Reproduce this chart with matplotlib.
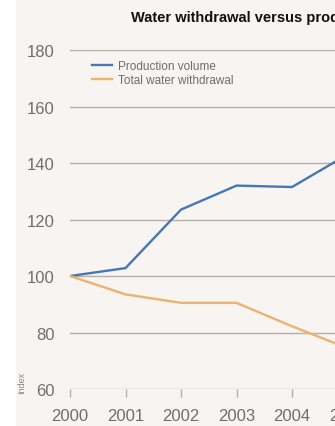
import matplotlib
matplotlib.use("Agg")
import matplotlib.pyplot as plt
from matplotlib.patches import Rectangle

years = [2000, 2001, 2002, 2003, 2004, 2005]
production_volume = [100, 102.8, 123.5, 132, 131.5, 143]
total_water_withdrawal = [100, 93.5, 90.5, 90.5, 82.2, 74.5]
y_ticks = [60, 80, 100, 120, 140, 160, 180]
title = "Water withdrawal versus production"
series_names = ["Production volume", "Total water withdrawal"]

plt.rcParams['font.family'] = ['Liberation Sans', 'DejaVu Sans']

W, H = 335, 427
fig = plt.figure(figsize=(W / 100, H / 100), dpi=100)
fig.patch.set_facecolor("white")
bg = "#f7f4f1"
fig.add_artist(Rectangle((16 / W, 0), 1, 1, transform=fig.transFigure,
                         facecolor=bg, edgecolor="none", zorder=0))

px_per_year = 55.5
xmax = 2005.6
left = 70 / W
width = (xmax - 2000) * px_per_year / W
bottom = 1 - 390 / H
top = 1 - 51 / H
ax = fig.add_axes([left, bottom, width, top - bottom])
ax.set_facecolor("none")
ax.set_xlim(2000, xmax)
ax.set_ylim(60, 180)

grid_c = "#b3afab"
text_c = "#6e6e6e"
for v in y_ticks:
    ax.axhline(v, color=grid_c, lw=1.0, zorder=1)

ax.plot(years, production_volume, color="#4677b4", lw=1.7, zorder=3,
        label=series_names[0], solid_joinstyle="miter")
ax.plot(years, total_water_withdrawal, color="#ebb46c", lw=1.7, zorder=3,
        label=series_names[1], solid_joinstyle="miter")

for s in ax.spines.values():
    s.set_visible(False)
ax.set_yticks(y_ticks)
ax.set_xticks(years)
ax.set_xticklabels([str(y) for y in years])
ax.tick_params(axis="y", length=0, pad=11, labelsize=12, labelcolor=text_c)
ax.tick_params(axis="x", length=6, width=1, color=grid_c, direction="out",
               pad=8, labelsize=12, labelcolor=text_c)

fig.text(22 / W, 1 - 383 / H, "Index", rotation=90, ha="center", va="center",
         fontsize=6.5, color="#8a8a8a")

fig.text(131 / W, 1 - 18 / H, title, ha="left", va="center",
         fontsize=10.5, fontweight="bold", color="#111111")

ax_w_px = width * W
ax_h_px = (top - bottom) * H
leg = ax.legend(loc="upper left",
                bbox_to_anchor=((92 - 70) / ax_w_px, 1 - 10 / ax_h_px),
                frameon=False, fontsize=8.5, labelcolor=text_c,
                handlelength=1.7, handletextpad=0.5, labelspacing=0.15,
                borderaxespad=0, borderpad=0)

fig.savefig("out.png", dpi=100, facecolor=fig.get_facecolor())
